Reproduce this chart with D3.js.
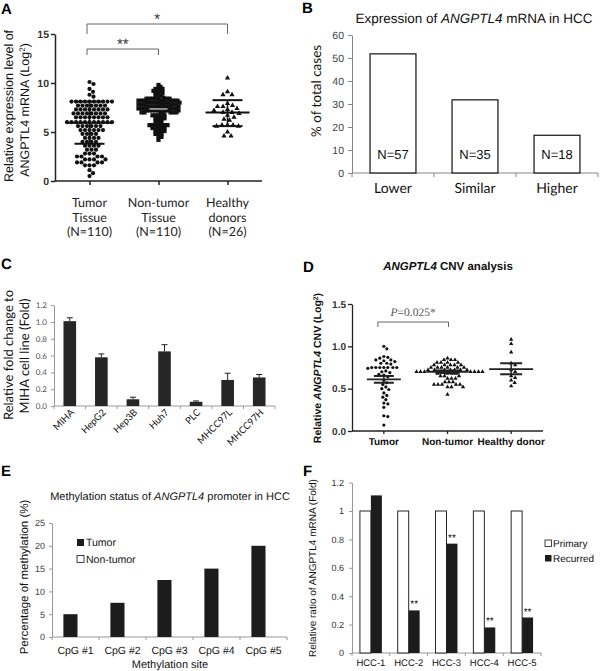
<!DOCTYPE html>
<html><head><meta charset="utf-8">
<script src="https://cdn.jsdelivr.net/npm/d3@7"></script>
<style>body{margin:0;background:#fff} svg{display:block} text{text-rendering:geometricPrecision}</style>
</head><body>
<svg id="c" width="600" height="671"></svg>
<script>
// ---------- Panel A data ----------
const aGroups = ["Tumor", "Non-tumor", "Healthy"];
const aGroupLabels = [["Tumor","Tissue","(N=110)"],["Non-tumor","Tissue","(N=110)"],["Healthy","donors","(N=26)"]];
const aTumor = [10.1,9.9,9.4,9.1,8.8,8.6,
  8.1,8.1,8.1,8.1,8.1,8.1,8.1,8.1,8.1,8.1,
  7.7,7.7,7.7,7.7,7.7,7.7,7.7,7.3,7.3,7.3,7.3,7.3,7.3,7.3,7.3,
  6.9,6.9,6.9,6.9,6.9,6.9,6.9,6.9,6.5,6.5,6.5,6.5,6.5,6.5,6.5,6.5,
  6.0,6.0,6.0,6.0,6.0,6.0,6.0,6.0,6.0,6.0,6.0,
  5.6,5.6,5.6,5.6,5.6,5.6,5.2,5.2,5.2,5.2,5.2,5.2,4.8,4.8,4.8,4.8,4.4,4.4,4.4,4.4,4.0,4.0,4.0,4.0,3.6,3.6,3.6,3.6,
  3.2,3.2,3.2,2.8,2.8,2.8,2.5,2.5,2.5,2.5,2.2,2.2,2.2,2.2,1.9,1.9,1.9,1.9,1.6,1.6,1.6,1.1,0.8,0.5];
const aNonTumor = [9.8,9.6,9.4,9.4,9.4,9.2,9.2,9.0,9.0,9.0,8.7,8.7,8.7,8.5,
  8.4,8.4,8.4,8.4,8.4,8.4,8.4,8.2,8.2,8.2,8.2,8.2,8.2,8.2,8.2,8.0,8.0,8.0,8.0,8.0,8.0,8.0,8.0,
  7.8,7.8,7.8,7.8,7.8,7.8,7.8,7.8,7.6,7.6,7.6,7.6,7.6,7.6,7.6,7.6,7.4,7.4,7.4,7.4,7.4,7.4,7.4,7.4,
  7.2,7.2,7.2,7.2,7.2,7.2,7.2,7.2,7.0,7.0,7.0,7.0,7.0,7.0,7.0,
  6.7,6.7,6.7,6.7,6.7,6.4,6.4,6.4,6.4,6.1,6.1,6.1,
  5.7,5.7,5.7,5.7,5.7,5.7,5.7,5.4,5.4,5.4,5.4,5.4,5.1,5.1,5.1,5.1,4.8,4.8,4.8,4.5,4.5,4.2];
const aHealthy = [10.5,9.1,8.8,8.8,7.9,7.7,7.6,7.6,7.4,7.3,7.2,7.0,7.0,6.9,6.7,6.5,6.3,6.2,5.7,5.7,5.7,5.6,5.6,5.0,4.6,4.6];
const aMean = [5.95, 7.35, 7.0];
const aSDLow = [3.8, null, 5.6];
const aSDHigh = [8.1, null, 8.25];
const aYTicks = [0,5,10,15];

// ---------- Panel B data ----------
const bCategories = ["Lower","Similar","Higher"];
const bValues = [51.8, 31.8, 16.4];
const bCounts = ["N=57","N=35","N=18"];
const bYTicks = [0,10,20,30,40,50,60];

// ---------- Panel C data ----------
const cCategories = ["MIHA","HepG2","Hep3B","Huh7","PLC","MHCC97L","MHCC97H"];
const cValues = [1.01,0.58,0.08,0.65,0.05,0.31,0.34];
const cErrors = [0.04,0.04,0.025,0.08,0.01,0.08,0.035];
const cYTicks = [0,0.2,0.4,0.6,0.8,1.0,1.2];

// ---------- Panel D data ----------
const dGroups = ["Tumor","Non-tumor","Healthy donor"];
const dTumor = [1.00,0.97,0.88,0.87,0.86,0.84,0.84,0.83,0.82,0.80,0.80,0.79,0.75,0.75,0.75,0.75,0.75,0.75,0.75,0.74,
  0.71,0.70,0.69,0.67,0.66,0.64,0.60,0.57,0.55,0.52,0.50,0.49,0.45,0.42,0.40,0.37,0.33,0.32,0.28,0.18,0.17,0.07];
const dNonTumor = [0.86,0.84,0.84,0.84,0.81,0.81,0.81,0.81,0.78,0.78,0.78,0.78,0.78,0.75,0.75,0.75,0.75,0.75,0.75,
  0.72,0.72,0.72,0.72,0.72,0.72,0.72,0.70,0.70,0.70,0.70,0.70,0.70,0.70,0.70,0.68,0.68,0.68,0.68,
  0.65,0.65,0.65,0.62,0.62,0.62,0.58,0.58,0.58,0.55,0.55,0.55,0.55,0.55,0.52,0.52,0.52,0.43];
const dHealthy = [1.08,1.03,0.93,0.80,0.78,0.72,0.70,0.65,0.63,0.60,0.57,0.53];
const dMean = [0.61,0.70,0.73];
const dSemLow = [0.57,0.685,0.67];
const dSemHigh = [0.65,0.715,0.80];
const dYTicks = [0,0.5,1.0,1.5];

// ---------- Panel E data ----------
const eCategories = ["CpG #1","CpG #2","CpG #3","CpG #4","CpG #5"];
const eSeries = ["Tumor","Non-tumor"];
const eTumor = [5,7.5,12.5,15,20];
const eNonTumor = [0,0,0,0,0];
const eYTicks = [0,5,10,15,20,25];

// ---------- Panel F data ----------
const fCategories = ["HCC-1","HCC-2","HCC-3","HCC-4","HCC-5"];
const fSeries = ["Primary","Recurred"];
const fPrimary = [1,1,1,1,1];
const fRecurred = [1.11,0.30,0.77,0.18,0.25];
const fSignif = ["","**","**","**","**"];
const fYTicks = [0,0.2,0.4,0.6,0.8,1,1.2];

// ================= drawing =================
const svg = d3.select("#c");
const SANS = "'Liberation Sans', Arial, sans-serif";
const CAL = "Lato, 'Open Sans', sans-serif";
const SERIF = "'Liberation Serif', 'Times New Roman', serif";

function swarm(values, y, cx, d) {
  const placed = [];
  values.forEach(v => {
    const py = y(v);
    let off = 0;
    for (let k = 0; k < 2000; k++) {
      const cand = k === 0 ? 0 : (k % 2 ? 1 : -1) * Math.ceil(k / 2) * 0.5;
      if (placed.every(p => (p.x - (cx + cand)) ** 2 + (p.y - py) ** 2 >= d * d)) { off = cand; break; }
    }
    placed.push({x: cx + off, y: py, v});
  });
  return placed;
}
function drawPts(g, pts, shape, size) {
  if (shape === "circle") {
    g.selectAll(null).data(pts).enter().append("circle")
      .attr("cx", p => p.x).attr("cy", p => p.y).attr("r", size).attr("fill", "#111");
  } else if (shape === "square") {
    g.selectAll(null).data(pts).enter().append("rect")
      .attr("x", p => p.x - size/2).attr("y", p => p.y - size/2).attr("width", size).attr("height", size).attr("fill", "#111");
  } else {
    const sym = d3.symbol(d3.symbolTriangle).size(size);
    g.selectAll(null).data(pts).enter().append("path")
      .attr("d", sym).attr("transform", p => `translate(${p.x},${p.y})`).attr("fill", "#111");
  }
}
function rotLabel(x, y, lines, opts) {
  const t = svg.append("text").attr("transform", `translate(${x},${y}) rotate(-90)`)
    .attr("text-anchor", "middle").attr("font-family", opts.family).attr("font-size", opts.size)
    .attr("font-weight", opts.weight || "normal").attr("fill", opts.fill || "#111");
  lines.forEach((parts) => {
    parts.forEach(p => {
      const s = t.append("tspan").text(p[0]);
      if (p[1]) s.attr("font-style", "italic");
      if (p[2]) s.attr("baseline-shift", "super").attr("font-size", opts.size * 0.65);
    });
  });
  return t;
}
function letter(txt, x, y) {
  svg.append("text").attr("x", x).attr("y", y).text(txt)
    .attr("font-family", SANS).attr("font-weight", "bold").attr("font-size", 15).attr("fill", "#000");
}
letter("A", 1, 14); letter("B", 302, 13); letter("C", 1, 269); letter("D", 303, 272); letter("E", 1, 476); letter("F", 303, 476);

// ---------------- Panel A ----------------
(function(){
  const y = d3.scaleLinear().domain([0,15]).range([181,34]);
  const x = d3.scalePoint().domain(aGroups).range([55,262]).padding(0.5);
  const g = svg.append("g");
  const ya = g.append("g").attr("transform","translate(55,0)")
    .call(d3.axisLeft(y).tickValues(aYTicks).tickSize(4).tickSizeOuter(0).tickPadding(2));
  ya.select(".domain").attr("stroke","#222").attr("stroke-width",1.5);
  ya.selectAll(".tick line").attr("stroke","#222").attr("stroke-width",1.5);
  ya.selectAll("text").attr("font-family",SANS).attr("font-weight","bold").attr("font-size",10.5).attr("fill","#333");
  const xa = g.append("g").attr("transform","translate(0,181)")
    .call(d3.axisBottom(x).tickSize(4).tickSizeOuter(0).tickFormat(""));
  xa.select(".domain").attr("stroke","#222").attr("stroke-width",1.5).attr("d","M55,0H262");
  xa.selectAll(".tick line").attr("stroke","#222").attr("stroke-width",1.5);
  aGroups.forEach((grp,i) => {
    const t = g.append("text").attr("text-anchor","middle").attr("font-family",CAL).attr("font-size",12.5).attr("fill","#222");
    aGroupLabels[i].forEach((ln,j) => t.append("tspan").attr("x", x(grp)).attr("y", 207 + j*14.5).text(ln));
  });
  drawPts(g, swarm(aTumor, y, x("Tumor"), 4.4), "circle", 2.1);
  drawPts(g, swarm(aNonTumor, y, x("Non-tumor"), 2.8), "square", 4.2);
  drawPts(g, swarm(aHealthy, y, x("Healthy"), 5.2), "triangle", 12);
  aGroups.forEach((grp,i) => {
    const cx = x(grp);
    if (aSDLow[i] != null) {
      g.append("line").attr("x1",cx).attr("x2",cx).attr("y1",y(aSDLow[i])).attr("y2",y(aSDHigh[i])).attr("stroke","#111").attr("stroke-width",1.5);
      [aSDLow[i], aSDHigh[i]].forEach(v => g.append("line").attr("x1",cx-15).attr("x2",cx+15).attr("y1",y(v)).attr("y2",y(v)).attr("stroke","#111").attr("stroke-width",2));
      g.append("line").attr("x1",cx-22).attr("x2",cx+22).attr("y1",y(aMean[i])).attr("y2",y(aMean[i])).attr("stroke","#111").attr("stroke-width",2);
    } else {
      g.append("line").attr("x1",cx-9).attr("x2",cx+9).attr("y1",y(aMean[i])).attr("y2",y(aMean[i])).attr("stroke","#ddd").attr("stroke-width",1.2);
    }
  });
  const x0 = x("Tumor")-2.5, x1 = x("Non-tumor"), x2 = x("Healthy");
  g.append("path").attr("d",`M${x0},34V24H${x2}V34`).attr("fill","none").attr("stroke","#666").attr("stroke-width",1);
  g.append("path").attr("d",`M${x0},55V49H${x1}V55`).attr("fill","none").attr("stroke","#666").attr("stroke-width",1);
  g.append("text").attr("x",(x0+x2)/2).attr("y",24).attr("text-anchor","middle").attr("font-family",SANS).attr("font-size",15).attr("fill","#333").text("*");
  g.append("text").attr("x",(x0+x1)/2).attr("y",49).attr("text-anchor","middle").attr("font-family",SANS).attr("font-size",15).attr("fill","#333").text("**");
  rotLabel(13, 106, [[["Relative expression level of"]]], {family:SANS, size:12.5});
  rotLabel(29, 110, [[["ANGPTL4 mRNA (Log"],["2",false,true],[")"]]], {family:SANS, size:12.5});
})();

// ---------------- Panel B ----------------
(function(){
  const y = d3.scaleLinear().domain([0,60]).range([173,35]);
  const x = d3.scaleBand().domain(bCategories).range([352,598]).paddingInner(0.44).paddingOuter(0.22);
  const g = svg.append("g");
  g.append("text").attr("x",474).attr("y",23).attr("text-anchor","middle").attr("font-family",SANS).attr("font-size",13.5).attr("fill","#111")
    .call(t => { t.append("tspan").text("Expression of "); t.append("tspan").attr("font-style","italic").text("ANGPTL4"); t.append("tspan").text(" mRNA in HCC"); });
  const ya = g.append("g").attr("transform","translate(352,0)")
    .call(d3.axisLeft(y).tickValues(bYTicks).tickSize(4).tickSizeOuter(0).tickPadding(4));
  ya.select(".domain").attr("stroke","#868686");
  ya.selectAll(".tick line").attr("stroke","#868686");
  ya.selectAll("text").attr("font-family",SANS).attr("font-size",10.5).attr("fill","#444");
  g.append("line").attr("x1",352).attr("x2",598).attr("y1",173).attr("y2",173).attr("stroke","#868686");
  d3.range(bCategories.length+1).forEach(i => {
    const xx = 352 + i*(246/bCategories.length);
    g.append("line").attr("x1",xx).attr("x2",xx).attr("y1",173).attr("y2",177).attr("stroke","#868686");
  });
  g.selectAll(null).data(bValues).enter().append("rect")
    .attr("x",(d,i)=>x(bCategories[i])).attr("width",x.bandwidth())
    .attr("y",d=>y(d)).attr("height",d=>173-y(d)).attr("fill","#fff").attr("stroke","#111").attr("stroke-width",1.2);
  bCategories.forEach((c,i) => {
    g.append("text").attr("x",x(c)+x.bandwidth()/2).attr("y",159).attr("text-anchor","middle").attr("font-family",SANS).attr("font-size",13).attr("fill","#111").text(bCounts[i]);
    g.append("text").attr("x",x(c)+x.bandwidth()/2).attr("y",193).attr("text-anchor","middle").attr("font-family",CAL).attr("font-size",14).attr("fill","#111").text(c);
  });
  rotLabel(321, 91, [[["% of total cases"]]], {family:CAL, size:13.5});
})();

// ---------------- Panel C ----------------
(function(){
  const y = d3.scaleLinear().domain([0,1.2]).range([406,305.2]);
  const x = d3.scaleBand().domain(cCategories).range([54,275]).paddingInner(0.6).paddingOuter(0.3);
  const g = svg.append("g");
  const ya = g.append("g").attr("transform","translate(54,0)")
    .call(d3.axisLeft(y).tickValues(cYTicks).tickSize(3).tickSizeOuter(0).tickPadding(4).tickFormat(d3.format(".1f")));
  ya.select(".domain").attr("stroke","#999");
  ya.selectAll(".tick line").attr("stroke","#999");
  ya.selectAll("text").attr("font-family",CAL).attr("font-size",8).attr("fill","#555");
  g.append("line").attr("x1",54).attr("x2",275).attr("y1",406).attr("y2",406).attr("stroke","#999");
  const step = 221/cCategories.length;
  d3.range(cCategories.length+1).forEach(i => {
    g.append("line").attr("x1",54+i*step).attr("x2",54+i*step).attr("y1",406).attr("y2",409).attr("stroke","#999");
  });
  cCategories.forEach((c,i) => {
    const cx = x(c)+x.bandwidth()/2;
    const top = y(cValues[i]+cErrors[i]);
    g.append("line").attr("x1",cx).attr("x2",cx).attr("y1",y(cValues[i])).attr("y2",top).attr("stroke","#222").attr("stroke-width",1);
    g.append("line").attr("x1",cx-3).attr("x2",cx+3).attr("y1",top).attr("y2",top).attr("stroke","#222").attr("stroke-width",1);
    g.append("rect").attr("x",x(c)).attr("width",x.bandwidth()).attr("y",y(cValues[i])).attr("height",406-y(cValues[i])).attr("fill","#262626");
    g.append("text").attr("transform",`translate(${cx+5},${413}) rotate(-45)`).attr("text-anchor","end")
      .attr("font-family",CAL).attr("font-size",9.5).attr("fill","#111").text(c);
  });
  rotLabel(13, 355, [[["Relative fold change to"]]], {family:CAL, size:13});
  rotLabel(29, 356, [[["MIHA cell line (Fold)"]]], {family:CAL, size:13});
})();

// ---------------- Panel D ----------------
(function(){
  const y = d3.scaleLinear().domain([0,1.5]).range([431,304]);
  const x = d3.scalePoint().domain(dGroups).range([352,543]).padding(0.5);
  const g = svg.append("g");
  g.append("text").attr("x",448).attr("y",270).attr("text-anchor","middle").attr("font-family",SANS).attr("font-weight","bold").attr("font-size",11.5).attr("fill","#111")
    .call(t => { t.append("tspan").attr("font-style","italic").text("ANGPTL4"); t.append("tspan").text(" CNV analysis"); });
  const ya = g.append("g").attr("transform","translate(352,0)")
    .call(d3.axisLeft(y).tickValues(dYTicks).tickSize(4).tickSizeOuter(0).tickPadding(2).tickFormat(d3.format(".1f")));
  ya.select(".domain").attr("stroke","#222").attr("stroke-width",1.3);
  ya.selectAll(".tick line").attr("stroke","#222").attr("stroke-width",1.3);
  ya.selectAll("text").attr("font-family",SANS).attr("font-weight","bold").attr("font-size",10).attr("fill","#333");
  g.append("line").attr("x1",352).attr("x2",543).attr("y1",431).attr("y2",431).attr("stroke","#222").attr("stroke-width",1.3);
  dGroups.forEach(c => {
    g.append("line").attr("x1",x(c)).attr("x2",x(c)).attr("y1",431).attr("y2",434).attr("stroke","#222").attr("stroke-width",1.3);
    g.append("text").attr("x",x(c)).attr("y",445).attr("text-anchor","middle").attr("font-family",SANS).attr("font-weight","bold").attr("font-size",10).attr("fill","#111").text(c);
  });
  drawPts(g, swarm(dTumor, y, x("Tumor"), 3.9), "circle", 1.6);
  drawPts(g, swarm(dNonTumor, y, x("Non-tumor"), 3.6), "triangle", 8);
  drawPts(g, swarm(dHealthy, y, x("Healthy donor"), 4), "triangle", 8);
  const meanW = [17,21,22], semW = [10,12,11];
  dGroups.forEach((c,i) => {
    const cx = x(c);
    g.append("line").attr("x1",cx).attr("x2",cx).attr("y1",y(dSemLow[i])).attr("y2",y(dSemHigh[i])).attr("stroke","#222").attr("stroke-width",1.5);
    g.append("line").attr("x1",cx-meanW[i]).attr("x2",cx+meanW[i]).attr("y1",y(dMean[i])).attr("y2",y(dMean[i])).attr("stroke","#222").attr("stroke-width",1.8);
    [dSemLow[i], dSemHigh[i]].forEach(v => g.append("line").attr("x1",cx-semW[i]).attr("x2",cx+semW[i]).attr("y1",y(v)).attr("y2",y(v)).attr("stroke","#222").attr("stroke-width",2));
  });
  const bx0 = x("Tumor")-6, bx1 = x("Non-tumor")+1;
  g.append("path").attr("d",`M${bx0},327V322H${bx1}V327`).attr("fill","none").attr("stroke","#666");
  g.append("text").attr("x",(bx0+bx1)/2).attr("y",316).attr("text-anchor","middle").attr("font-family",SERIF).attr("font-size",11.5).attr("fill","#555")
    .call(t => { t.append("tspan").attr("font-style","italic").text("P"); t.append("tspan").text("=0.025*"); });
  rotLabel(321, 368, [[["Relative "],["ANGPTL4",true],[" CNV (Log"],["2",false,true],[")"]]], {family:SANS, size:10.5, weight:"bold"});
})();

// ---------------- Panel E ----------------
(function(){
  const y = d3.scaleLinear().domain([0,25]).range([637,523]);
  const x0 = d3.scaleBand().domain(eCategories).range([52,287]).paddingInner(0.4).paddingOuter(0.2);
  const x1 = d3.scaleBand().domain(eSeries).range([0,x0.bandwidth()]);
  const g = svg.append("g");
  g.append("text").attr("x",170).attr("y",500).attr("text-anchor","middle").attr("font-family",SANS).attr("font-size",11).attr("fill","#111")
    .call(t => { t.append("tspan").text("Methylation status of "); t.append("tspan").attr("font-style","italic").text("ANGPTL4"); t.append("tspan").text(" promoter in HCC"); });
  const ya = g.append("g").attr("transform","translate(52,0)")
    .call(d3.axisLeft(y).tickValues(eYTicks).tickSize(3).tickSizeOuter(0).tickPadding(4));
  ya.select(".domain").attr("stroke","#999");
  ya.selectAll(".tick line").attr("stroke","#999");
  ya.selectAll("text").attr("font-family",SANS).attr("font-size",9).attr("fill","#444");
  g.append("line").attr("x1",52).attr("x2",287).attr("y1",637).attr("y2",637).attr("stroke","#999");
  const step = 235/eCategories.length;
  d3.range(eCategories.length+1).forEach(i => g.append("line").attr("x1",52+i*step).attr("x2",52+i*step).attr("y1",637).attr("y2",640).attr("stroke","#999"));
  eCategories.forEach((c,i) => {
    [eTumor[i], eNonTumor[i]].forEach((v,j) => {
      if (v > 0) g.append("rect").attr("x",x0(c)+x1(eSeries[j])+2).attr("width",x1.bandwidth()).attr("y",y(v)).attr("height",637-y(v))
        .attr("fill", j===0 ? "#1c1c1c" : "#fff").attr("stroke", j===0 ? "none" : "#111");
    });
    g.append("text").attr("x",x0(c)+x0.bandwidth()/2).attr("y",654).attr("text-anchor","middle").attr("font-family",SANS).attr("font-size",10.5).attr("fill","#111").text(c);
  });
  g.append("text").attr("x",170).attr("y",668).attr("text-anchor","middle").attr("font-family",SANS).attr("font-size",11).attr("fill","#111").text("Methylation site");
  eSeries.forEach((s,j) => {
    g.append("rect").attr("x",77).attr("y",539+j*16.5).attr("width",7).attr("height",7)
      .attr("fill", j===0 ? "#1c1c1c" : "#fff").attr("stroke", "#111").attr("stroke-width", j===0?0:0.8);
    g.append("text").attr("x",86).attr("y",546+j*16.5).attr("font-family",SANS).attr("font-size",10.5).attr("fill","#111").text(s);
  });
  rotLabel(28, 577, [[["Percentage of methylation (%)"]]], {family:SANS, size:11.5});
})();

// ---------------- Panel F ----------------
(function(){
  const y = d3.scaleLinear().domain([0,1.2]).range([653,482.6]);
  const x0 = d3.scaleBand().domain(fCategories).range([352,541]).paddingInner(0.42).paddingOuter(0.21);
  const x1 = d3.scaleBand().domain(fSeries).range([0,x0.bandwidth()]);
  const g = svg.append("g");
  const ya = g.append("g").attr("transform","translate(352,0)")
    .call(d3.axisLeft(y).tickValues(fYTicks).tickSize(3).tickSizeOuter(0).tickPadding(5).tickFormat(d => String(+d.toFixed(1))));
  ya.select(".domain").attr("stroke","#999");
  ya.selectAll(".tick line").attr("stroke","#999");
  ya.selectAll("text").attr("font-family",SANS).attr("font-size",9).attr("fill","#333");
  g.append("line").attr("x1",352).attr("x2",541).attr("y1",653).attr("y2",653).attr("stroke","#999");
  const step = 189/fCategories.length;
  d3.range(fCategories.length+1).forEach(i => g.append("line").attr("x1",352+i*step).attr("x2",352+i*step).attr("y1",653).attr("y2",656).attr("stroke","#999"));
  fCategories.forEach((c,i) => {
    [fPrimary[i], fRecurred[i]].forEach((v,j) => {
      g.append("rect").attr("x",x0(c)+x1(fSeries[j])).attr("width",x1.bandwidth()).attr("y",y(v)).attr("height",653-y(v))
        .attr("fill", j===0 ? "#fff" : "#1c1c1c").attr("stroke", j===0 ? "#111" : "none").attr("stroke-width",0.9);
    });
    if (fSignif[i]) g.append("text").attr("x",x0(c)+x1("Recurred")+x1.bandwidth()/2).attr("y",y(fRecurred[i])-3)
      .attr("text-anchor","middle").attr("font-family",SANS).attr("font-size",10).attr("fill","#111").text(fSignif[i]);
    g.append("text").attr("x",x0(c)+x0.bandwidth()/2).attr("y",666).attr("text-anchor","middle").attr("font-family",SANS).attr("font-size",9.5).attr("fill","#111").text(c);
  });
  fSeries.forEach((s,j) => {
    g.append("rect").attr("x",545).attr("y",540+j*15).attr("width",6.5).attr("height",6.5)
      .attr("fill", j===0 ? "#fff" : "#1c1c1c").attr("stroke","#111").attr("stroke-width", j===0?0.8:0);
    g.append("text").attr("x",553).attr("y",547+j*15).attr("font-family",SANS).attr("font-size",10).attr("fill","#111").text(s);
  });
  rotLabel(316, 568, [[["Relative ratio of ANGPTL4 mRNA (Fold)"]]], {family:SANS, size:10});
})();
</script>
</body></html>
